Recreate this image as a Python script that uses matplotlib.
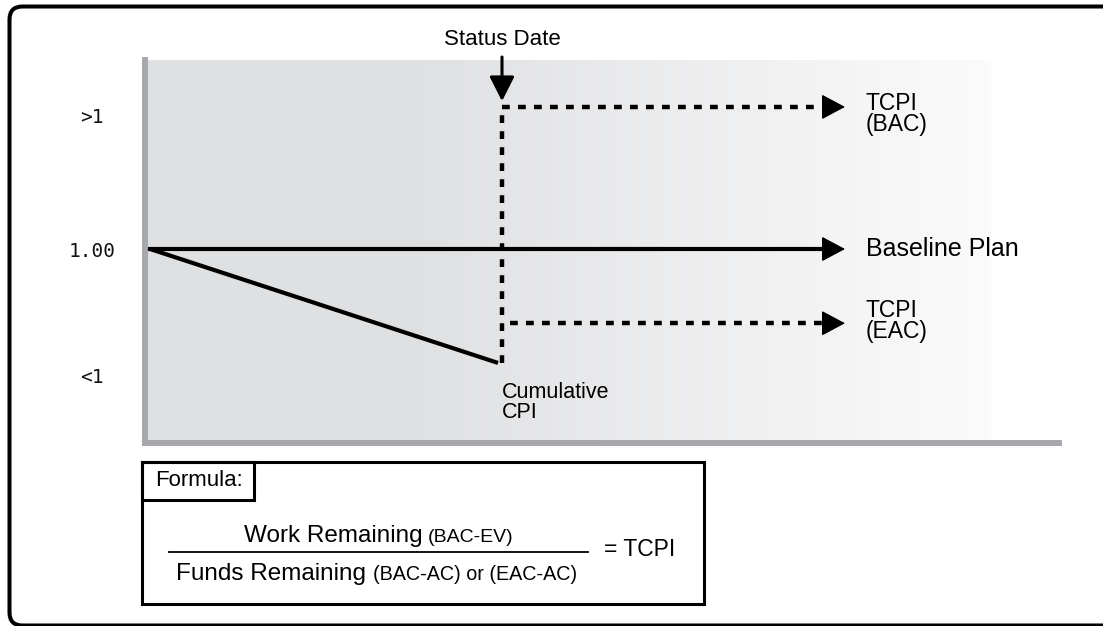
import numpy as np
import matplotlib
matplotlib.use('Agg')
import matplotlib.pyplot as plt
from matplotlib.patches import FancyBboxPatch, Rectangle

# index values (vertical scale, 1.00 = on plan)
baseline = 1.00
cpi_cumulative = 0.822
tcpi_bac = 1.222
tcpi_eac = 0.884
tick_pos = [1.209, 1.00, 0.802]
tick_labels = ['>1', '1.00', '<1']

# time axis
t_start = 0.0
t_status = 35.2
t_end = 69.5

W, H = 1103, 626
fig = plt.figure(figsize=(W / 100, H / 100), dpi=100)
plt.rcParams['font.family'] = ['Liberation Sans', 'DejaVu Sans']


def fx(x):
    return x / W


def fy(y):
    return 1 - y / H


ax = fig.add_axes([fx(145), fy(443), fx(1059 - 145), (443 - 60) / H])
ax.set_xlim(-0.5, 90.9)
ax.set_ylim(0.6969, 1.2953)
ax.set_facecolor('none')

# background gradient: flat grey on the left, fading to white on the right
cols = np.arange(145, 1059)
g0 = np.array([0.878, 0.882, 0.890])
frac = np.clip((cols - 420) / (990 - 420), 0, 1)
grad = g0[None, :] * (1 - frac[:, None]) + np.array([0.985, 0.985, 0.985])[None, :] * frac[:, None]
grad[cols > 990] = 1.0
ax.imshow(grad[None, :, :], extent=[-0.5, 90.9, 0.6969, 1.2953], aspect='auto', zorder=0)

for s in ['top', 'right']:
    ax.spines[s].set_visible(False)
for s in ['left', 'bottom']:
    ax.spines[s].set_color('#a7a8ab')
    ax.spines[s].set_linewidth(4.3)
ax.set_xticks([])
ax.set_yticks(tick_pos, tick_labels)
ax.tick_params(axis='y', length=0, pad=38)
for lab in ax.get_yticklabels():
    lab.set_horizontalalignment('center')
    lab.set_fontfamily('DejaVu Sans Mono')
    lab.set_fontsize(14)
    lab.set_color('#111111')

dash = (1.75, 1.85)
head = dict(arrowstyle='-|>,head_length=0.75,head_width=0.4', color='black',
            lw=1, mutation_scale=20, shrinkA=0, shrinkB=0)

# baseline plan
ax.plot([t_start, t_end - 1.5], [baseline, baseline], color='black', lw=3.0, zorder=3)
ax.annotate('', xy=(t_end, baseline), xytext=(t_end - 2, baseline), arrowprops=head)

# cumulative CPI
ax.plot([t_start, t_status - 0.4], [baseline, cpi_cumulative], color='black', lw=3.0,
        solid_capstyle='butt', zorder=3)

# status date vertical
ax.plot([t_status, t_status], [cpi_cumulative, tcpi_bac], color='black', lw=3.2,
        dashes=dash, zorder=3)
# TCPI (BAC)
ax.plot([t_status, t_end - 1.5], [tcpi_bac, tcpi_bac], color='black', lw=3.2,
        dashes=dash, zorder=3)
ax.annotate('', xy=(t_end, tcpi_bac), xytext=(t_end - 2, tcpi_bac), arrowprops=head)
# TCPI (EAC)
ax.plot([t_status + 0.8, t_end - 1.5], [tcpi_eac, tcpi_eac], color='black', lw=3.2,
        dashes=dash, zorder=3)
ax.annotate('', xy=(t_end, tcpi_eac), xytext=(t_end - 2, tcpi_eac), arrowprops=head)

# status date arrow
ax.annotate('', xy=(t_status, 1.231), xytext=(t_status, 1.300), annotation_clip=False,
            arrowprops=dict(arrowstyle='-|>,head_length=0.75,head_width=0.38', color='black',
                            lw=2.2, mutation_scale=20, shrinkA=0, shrinkB=0))
ax.text(t_status, 1.327, 'Status Date', ha='center', va='center', fontsize=16,
        clip_on=False)

ax.text(71.6, 1.245, 'TCPI\n(BAC)', ha='left', va='top', fontsize=16.5, linespacing=0.9)
ax.text(71.6, baseline, 'Baseline Plan', ha='left', va='center', fontsize=18)
ax.text(71.6, 0.922, 'TCPI\n(EAC)', ha='left', va='top', fontsize=16.5, linespacing=0.9)
ax.text(t_status, 0.792, 'Cumulative\nCPI', ha='left', va='top', fontsize=15.5,
        linespacing=0.95)

# outer rounded frame
frame = FancyBboxPatch((9.5 / 100, 0.005), 11.3, (626 - 6.5) / 100 - 0.005,
                       boxstyle='round,pad=0,rounding_size=0.13',
                       transform=fig.dpi_scale_trans, fill=False, ec='black', lw=2.9)
fig.patches.append(frame)

# formula box
fig.patches.append(Rectangle((fx(142), fy(604)), fx(704 - 142), (604 - 462) / H,
                             transform=fig.transFigure, fill=False, ec='black', lw=2.2))
fig.patches.append(Rectangle((fx(142), fy(500)), fx(254 - 142), (500 - 462) / H,
                             transform=fig.transFigure, fill=False, ec='black', lw=2.2))
fig.text(fx(199), fy(481), 'Formula:', ha='center', va='center', fontsize=16)
fig.add_artist(plt.Line2D([fx(169), fx(588)], [fy(552), fy(552)], color='black', lw=1.3,
                          transform=fig.transFigure))
fig.text(fx(423), fy(542), 'Work Remaining', ha='right', va='baseline', fontsize=17.5)
fig.text(fx(428), fy(542), '(BAC-EV)', ha='left', va='baseline', fontsize=14)
fig.text(fx(366), fy(580), 'Funds Remaining', ha='right', va='baseline', fontsize=17.5)
fig.text(fx(373), fy(580), '(BAC-AC) or (EAC-AC)', ha='left', va='baseline', fontsize=14.2)
fig.text(fx(604), fy(549), '= TCPI', ha='left', va='center', fontsize=16.5)

fig.savefig('out.png', dpi=100)
